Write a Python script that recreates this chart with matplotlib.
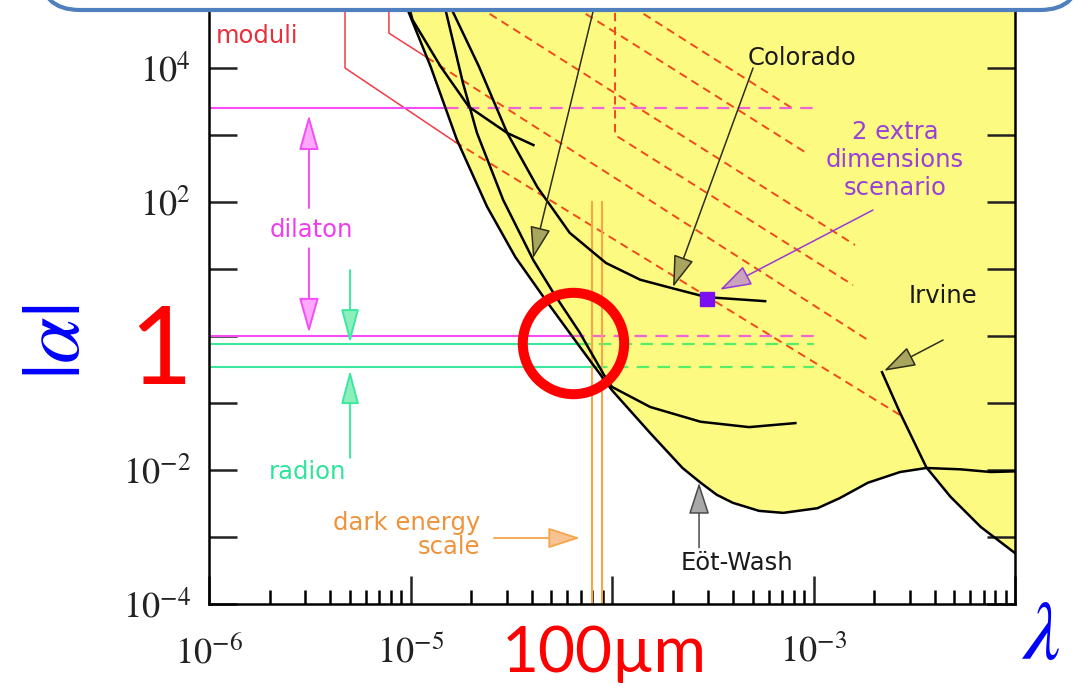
import numpy as np
import matplotlib.pyplot as plt
from matplotlib.patches import FancyBboxPatch
from matplotlib.ticker import LogLocator, NullFormatter, NullLocator

plt.rcParams['mathtext.fontset'] = 'stix'
plt.rcParams['lines.scale_dashes'] = False
plt.rcParams['font.family'] = ['DejaVu Sans']

# ---------- DATA: log10(lambda / m) , log10|alpha| ----------
# lower edge of the excluded (yellow) region
env_lam = [-5.06, -5.01, -4.90, -4.77, -4.62, -4.48, -4.33, -4.16, -4.00, -3.81,
           -3.65, -3.56, -3.48, -3.40, -3.27, -3.15, -2.98, -2.87, -2.73, -2.57,
           -2.44, -2.27, -2.12, -2.00]
env_alpha = [5.16, 4.84, 4.02, 2.93, 1.93, 1.18, 0.54, -0.16, -0.81, -1.45,
             -1.97, -2.19, -2.37, -2.49, -2.61, -2.64, -2.57, -2.42, -2.19, -2.03,
             -1.97, -1.99, -2.03, -2.02]

# other experimental limits
stan_lam = [-4.85, -4.82, -4.74, -4.67, -4.54, -4.39, -4.29, -4.16, -4.04, -4.00,
            -3.81, -3.56, -3.32, -3.09]
stan_alpha = [5.16, 4.79, 3.78, 3.03, 2.03, 1.13, 0.64, 0.05, -0.58, -0.76,
              -1.06, -1.28, -1.36, -1.30]
colo_lam = [-4.84, -4.79, -4.66, -4.52, -4.37, -4.21, -4.03, -3.86, -3.71, -3.53, -3.24]
colo_alpha = [5.16, 4.84, 4.02, 3.03, 2.22, 1.54, 1.09, 0.84, 0.72, 0.58, 0.52]
short_lam = [-5.03, -4.99, -4.85, -4.71, -4.52, -4.39]
short_alpha = [5.16, 4.72, 4.02, 3.42, 3.03, 2.85]
irv_lam = [-2.66, -2.57, -2.44, -2.32, -2.17, -2.00]
irv_alpha = [-0.54, -1.15, -1.96, -2.40, -2.85, -3.24]

# moduli predictions: solid outside, dashed inside the excluded region
mod1_lam = [-5.325, -5.325, -4.78, -2.57]
mod1_alpha = [5.16, 4.00, 2.90, -1.18]
mod2_lam = [-5.107, -5.107, -4.92, -2.73]
mod2_alpha = [5.16, 4.52, 4.16, -0.06]
red_dash_lam = [[-4.794, -2.794], [-4.318, -3.027], [-4.030, -3.092], [-3.985, -3.985, -2.804]]
red_dash_alpha = [[5.164, 1.358], [5.164, 2.716], [5.164, 3.373], [5.164, 3.00, 0.761]]

dilaton_alpha = [3.40, 0.0]
radion_alpha = [-0.12, -0.46]
band_end_lam = -3.0
dark_energy_lam = [-4.10, -4.05]
dark_energy_top = 2.0

# arrows: (tail, tip)
arr_stanford = ((-4.074, 5.09), (-4.392, 1.16))
arr_colorado = ((-3.300, 4.00), (-3.697, 0.73))
arr_irvine = ((-2.357, -0.06), (-2.650, -0.52))
arr_scenario = ((-2.705, 1.88), (-3.464, 0.69))
arr_eotwash = ((-3.568, -3.16), (-3.568, -2.19))
arr_darkenergy = ((-4.586, -3.015), (-4.159, -3.015))
arr_dilaton = [((-5.504, 1.91), (-5.504, 3.30)), ((-5.504, 1.31), (-5.504, 0.045))]
arr_radion = [((-5.300, 0.985), (-5.300, -0.105)), ((-5.300, -1.82), (-5.300, -0.51))]

scenario_point = (-3.529, 0.552)
circle_point = (-4.194, -0.104)

YELLOW = '#fdfa82'
RED_DASH = '#f04a1a'
MODULI = '#f03c46'
MAGENTA = '#f54cf5'
GREEN = '#3be8a0'
ORANGE = '#f5a54a'
OLIVE = '#a8a65e'


def p10(v):
    return 10.0 ** np.asarray(v, dtype=float)


W, H = 1078, 686
fig = plt.figure(figsize=(W / 100, H / 100), dpi=100)
ax = fig.add_axes([209 / W, 82 / H, 806 / W, 604 / H])
ax.set_xscale('log')
ax.set_yscale('log')
ax.set_xlim(1e-6, 1e-2)
ytop = 10 ** (-4 + 604 / 67)
ax.set_ylim(1e-4, ytop)

# excluded region
ax.fill_between(p10(env_lam), p10(env_alpha), 1e7, color=YELLOW, lw=0, zorder=1)
ax.fill_between(p10(irv_lam), p10(irv_alpha), 1e7, color=YELLOW, lw=0, zorder=1)

# moduli lines
for lam, al in ((mod1_lam, mod1_alpha), (mod2_lam, mod2_alpha)):
    ax.plot(p10(lam[:3]), p10(al[:3]), color=MODULI, lw=1.1, zorder=2)
    ax.plot(p10(lam[2:]), p10(al[2:]), color=RED_DASH, lw=1.4, ls=(0, (6, 4)), zorder=2)
for lam, al in zip(red_dash_lam, red_dash_alpha):
    ax.plot(p10(lam), p10(al), color=RED_DASH, lw=1.4, ls=(0, (6, 4)), zorder=2)

# dilaton / radion bands: solid until the exclusion edge, dashed inside
env_desc_a = np.array(env_alpha[:12])[::-1]
env_desc_l = np.array(env_lam[:12])[::-1]
for al, col, dcol in [(dilaton_alpha[0], MAGENTA, '#f064d6'), (dilaton_alpha[1], MAGENTA, '#f064d6'),
                      (radion_alpha[0], GREEN, '#55ee66'), (radion_alpha[1], GREEN, '#55ee66')]:
    xb = np.interp(al, env_desc_a, env_desc_l)
    ax.plot(p10([-6, xb]), p10([al, al]), color=col, lw=1.5, zorder=2)
    ax.plot(p10([xb, band_end_lam]), p10([al, al]), color=dcol, lw=1.6,
            ls=(0, (9, 6)), zorder=2)

# dark energy scale
for lam in dark_energy_lam:
    ax.plot(p10([lam, lam]), p10([-4, dark_energy_top]), color=ORANGE, lw=1.5, zorder=2)

# experimental curves
for lam, al in [(env_lam, env_alpha), (stan_lam, stan_alpha), (colo_lam, colo_alpha),
                (short_lam, short_alpha), (irv_lam, irv_alpha)]:
    ax.plot(p10(lam), p10(al), color='black', lw=1.8, zorder=3, solid_joinstyle='round')


def arrow(tail, tip, fc, ec, hl=20, hw=6.5, lw=1.1):
    ax.annotate('', xy=p10(tip), xytext=p10(tail),
                arrowprops=dict(arrowstyle=f'-|>,head_length={hl},head_width={hw}',
                                mutation_scale=1, fc=fc, ec=ec, lw=lw,
                                shrinkA=0, shrinkB=0),
                zorder=4, annotation_clip=False)


for a in (arr_stanford, arr_colorado, arr_irvine):
    arrow(*a, fc=OLIVE, ec='#2e2e18')
arrow(*arr_scenario, fc='#c9a2bc', ec='#9a3ad6')
arrow(*arr_eotwash, fc='#a8a8a8', ec='#4a4a4a')
arrow(*arr_darkenergy, fc='#f8c292', ec=ORANGE, lw=1.3)
for a in arr_dilaton:
    arrow(*a, fc='#ffa8ff', ec=MAGENTA, hl=22, hw=6.2, lw=1.4)
for a in arr_radion:
    arrow(*a, fc='#8ceebb', ec=GREEN, hl=21, hw=5.6, lw=1.4)

ax.plot(*p10(scenario_point), marker='s', ms=10, color='#7a10f0', zorder=5)
ax.plot(*p10(circle_point), marker='o', ms=73, mfc='none', mec='#ff0000', mew=7.2,
        zorder=6, clip_on=False)

# labels inside the plot
lab = dict(fontsize=17.5, zorder=5)
ax.text(*p10((-5.762, 4.478)), 'moduli', color='#e8303a', ha='center', va='center', **lab)
ax.text(*p10((-5.494, 1.582)), 'dilaton', color='#f03cf0', ha='center', va='center', **lab)
ax.text(*p10((-5.51, -2.03)), 'radion', color='#2fe39a', ha='center', va='center', **lab)
ax.text(*p10((-4.655, -2.97)), 'dark energy\nscale', color='#f0923a', ha='right',
        va='center', multialignment='right', linespacing=1.05, **lab)
ax.text(*p10((-3.325, 4.149)), 'Colorado', color='#1a1a1a', ha='left', va='center', **lab)
ax.text(*p10((-2.595, 2.627)), '2 extra\ndimensions\nscenario', color='#9b3fd9',
        ha='center', va='center', linespacing=1.2, **lab)
ax.text(*p10((-2.357, 0.597)), 'Irvine', color='#1a1a1a', ha='center', va='center', **lab)
ax.text(*p10((-3.380, -3.388)), 'Eöt-Wash', color='#1a1a1a', ha='center', va='center', **lab)

# axes styling
ax.spines['top'].set_visible(False)
for s in ('left', 'right', 'bottom'):
    ax.spines[s].set_linewidth(1.8)

ydec = list(range(-4, 6))
ax.set_yticks(p10(ydec))
ax.set_yticklabels([f'$10^{{{k}}}$' if k in (4, 2, -2, -4) else '' for k in ydec])
ax.yaxis.set_minor_locator(NullLocator())
xdec = list(range(-6, -1))
ax.set_xticks(p10(xdec))
ax.set_xticklabels([f'$10^{{{k}}}$' if k in (-6, -5, -3) else '' for k in xdec])
ax.xaxis.set_minor_locator(LogLocator(base=10, subs=np.arange(2, 10), numticks=20))
ax.xaxis.set_minor_formatter(NullFormatter())
ax.tick_params(axis='y', which='major', direction='in', length=20, width=1.8,
               left=True, right=True, labelsize=26, pad=13, colors='#222222')
ax.tick_params(axis='x', which='major', direction='in', length=20, width=1.8,
               top=False, labelsize=26, pad=22, colors='#222222')
ax.tick_params(axis='x', which='minor', direction='in', length=10, width=1.8, top=False)

# overlay in pixel units: banner box and the big annotations
ov = fig.add_axes([0, 0, 1, 1], zorder=10)
ov.set_xlim(0, W)
ov.set_ylim(H, 0)
ov.axis('off')
ov.add_patch(FancyBboxPatch((40, -100), 1040, 110, boxstyle='round,pad=0,rounding_size=40',
                            fc='white', ec='#4f7fbf', lw=3))
ov.text(56, 342, r'$|\alpha|$', color='#0000ff', fontsize=60, rotation=90,
        ha='center', va='center')
ov.text(161, 384, '1', color='#ff0000', fontsize=78, family=['Lato', 'DejaVu Sans'],
        ha='center', va='baseline')
ov.text(604, 672, '100µm', color='#ff0000', fontsize=46, family=['Lato', 'DejaVu Sans'],
        ha='center', va='baseline')
ov.text(1040, 636, r'$\lambda$', color='#0000ff', fontsize=60, ha='center', va='center')

fig.savefig('out.png', dpi=100)
